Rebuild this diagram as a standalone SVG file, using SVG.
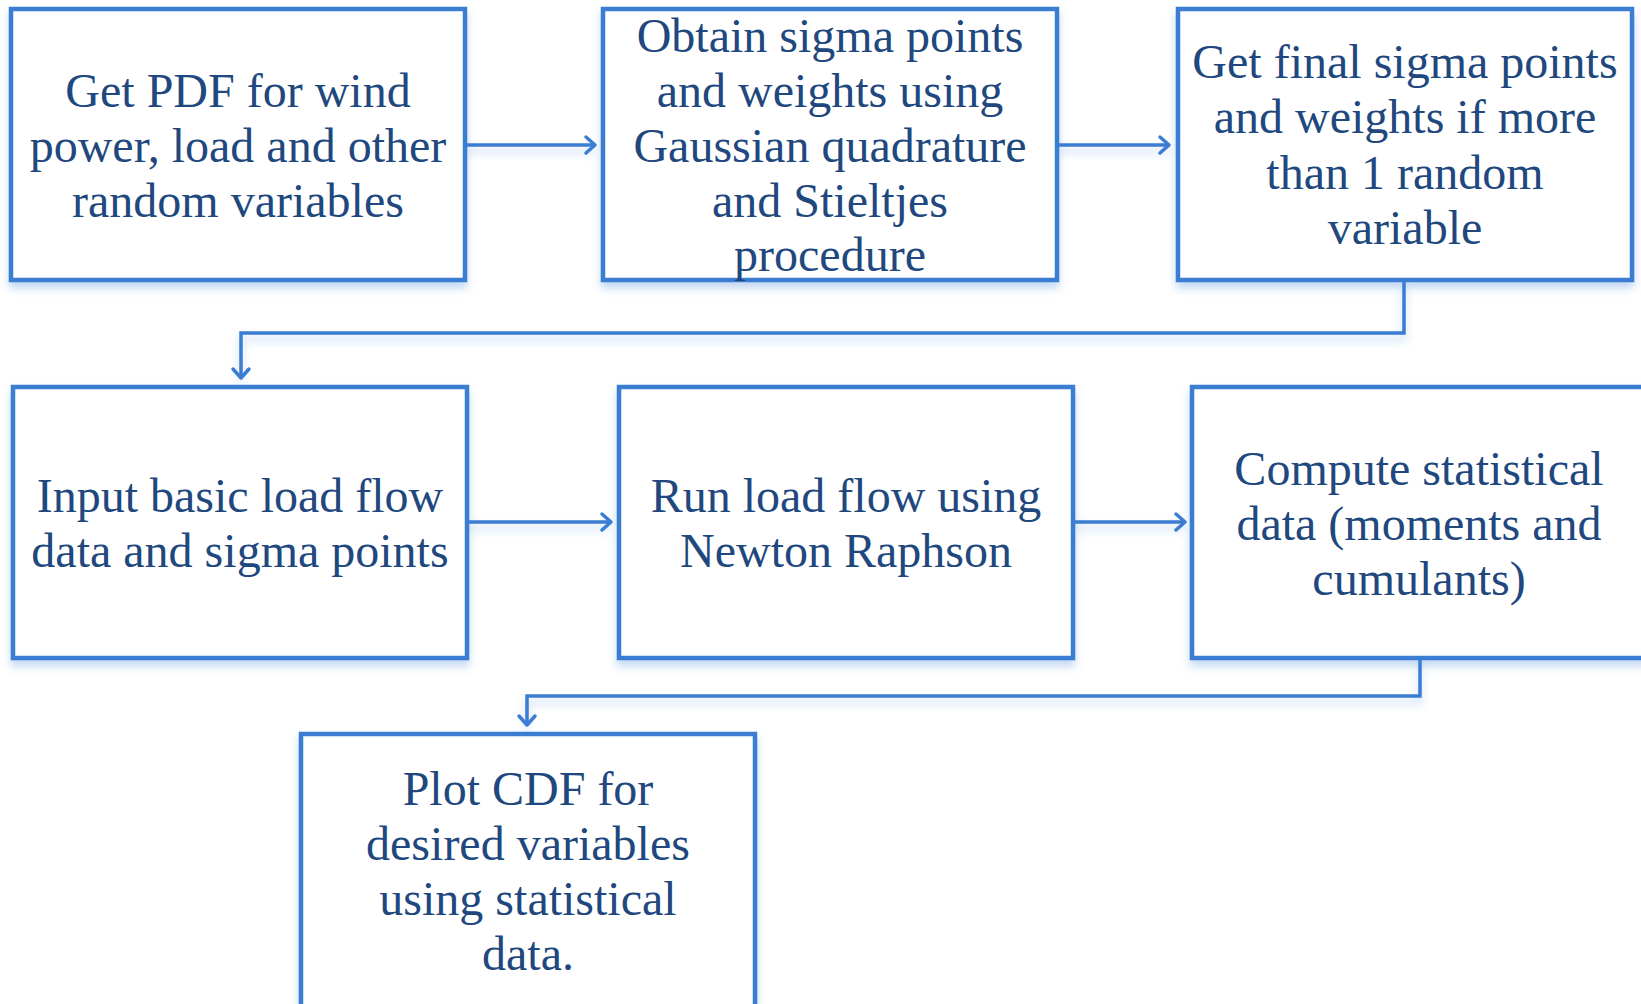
<svg xmlns="http://www.w3.org/2000/svg" width="1641" height="1004" viewBox="0 0 1641 1004">
<style>
.box{fill:#fff;stroke:#3b7dd3;stroke-width:4.5;filter:url(#sh)}
.lbl{font-family:"Liberation Serif","Times New Roman",serif;font-size:48px;fill:#21487e;text-anchor:middle}
.con{fill:none;stroke:#3b7dd3;stroke-width:3.5;filter:url(#sh)}
.ah{fill:none;stroke:#3b7dd3;stroke-width:3.5;stroke-linecap:round;stroke-linejoin:round}
</style>
<defs>
<filter id="sh" filterUnits="userSpaceOnUse" x="-20" y="-20" width="1700" height="1060">
<feDropShadow dx="0" dy="6" stdDeviation="4" flood-color="#3b7dd3" flood-opacity="0.3"/>
</filter>
</defs>
<rect width="1641" height="1004" fill="#fff"/>
<g id="connectors">
<path class="con" d="M466 145 H594"/>
<path class="ah" d="M586 137 L595 145 L586 153"/>
<path class="con" d="M1057 145 H1168"/>
<path class="ah" d="M1160 137 L1169 145 L1160 153"/>
<path class="con" d="M1404 282 V333 H241 V377"/>
<path class="ah" d="M233 369 L241 378 L249 369"/>
<path class="con" d="M468 522 H610"/>
<path class="ah" d="M602 514 L611 522 L602 530"/>
<path class="con" d="M1074 522 H1184"/>
<path class="ah" d="M1176 514 L1185 522 L1176 530"/>
<path class="con" d="M1420 660 V696 H527 V724"/>
<path class="ah" d="M519 716 L527 725 L535 716"/>
</g>
<g id="n1">
<rect class="box" x="11" y="9" width="454" height="271"/>
<text class="lbl" x="238" y="107">Get PDF for wind</text>
<text class="lbl" x="238" y="162">power, load and other</text>
<text class="lbl" x="238" y="217">random variables</text>
</g>
<g id="n2">
<rect class="box" x="603" y="9" width="454" height="271"/>
<text class="lbl" x="830" y="52">Obtain sigma points</text>
<text class="lbl" x="830" y="107">and weights using</text>
<text class="lbl" x="830" y="162">Gaussian quadrature</text>
<text class="lbl" x="830" y="217">and Stieltjes</text>
<text class="lbl" x="830" y="271">procedure</text>
</g>
<g id="n3">
<rect class="box" x="1178" y="9" width="454" height="271"/>
<text class="lbl" x="1405" y="78">Get final sigma points</text>
<text class="lbl" x="1405" y="133">and weights if more</text>
<text class="lbl" x="1405" y="189">than 1 random</text>
<text class="lbl" x="1405" y="244">variable</text>
</g>
<g id="n4">
<rect class="box" x="13" y="387" width="454" height="271"/>
<text class="lbl" x="240" y="512">Input basic load flow</text>
<text class="lbl" x="240" y="567">data and sigma points</text>
</g>
<g id="n5">
<rect class="box" x="619" y="387" width="454" height="271"/>
<text class="lbl" x="846" y="512">Run load flow using</text>
<text class="lbl" x="846" y="567">Newton Raphson</text>
</g>
<g id="n6">
<rect class="box" x="1192" y="387" width="454" height="271"/>
<text class="lbl" x="1419" y="485">Compute statistical</text>
<text class="lbl" x="1419" y="540">data (moments and</text>
<text class="lbl" x="1419" y="595">cumulants)</text>
</g>
<g id="n7">
<rect class="box" x="301" y="734" width="454" height="280"/>
<text class="lbl" x="528" y="805">Plot CDF for</text>
<text class="lbl" x="528" y="860">desired variables</text>
<text class="lbl" x="528" y="915">using statistical</text>
<text class="lbl" x="528" y="970">data.</text>
</g>
</svg>
